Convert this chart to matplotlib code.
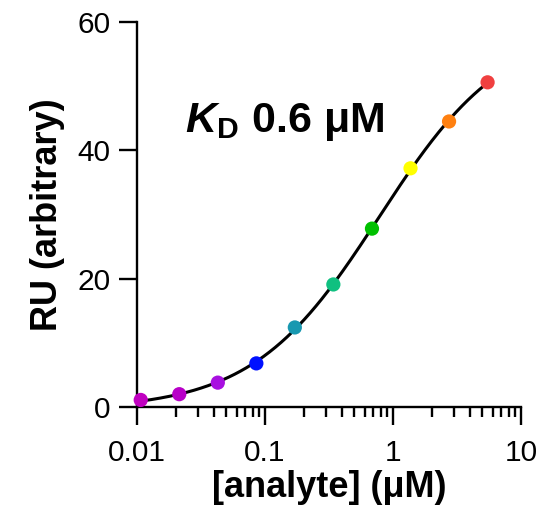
import numpy as np
import matplotlib
matplotlib.use("Agg")
import matplotlib.pyplot as plt

plt.rcParams['font.family'] = ['Liberation Sans', 'DejaVu Sans']
plt.rcParams['mathtext.fontset'] = 'custom'
plt.rcParams['mathtext.bfit'] = 'Liberation Sans:bold:italic'
plt.rcParams['mathtext.bf'] = 'Liberation Sans:bold'

# data (two-fold dilution series)
conc = [0.0107, 0.0214, 0.0428, 0.0856, 0.171, 0.342, 0.685, 1.37, 2.74, 5.48]   # uM
ru = [1.1, 2.0, 3.8, 6.8, 12.4, 19.1, 27.8, 37.2, 44.5, 50.6]
dot_colors = ['#c000c0', '#b800c8', '#a810e0', '#0010ff', '#1898b0',
              '#10c080', '#00c000', '#ffff00', '#ff8010', '#f04040']

conc = np.array(conc)
ru = np.array(ru)

# fit a Hill-type binding curve to the points (grid over K, n; linear in Rmax, offset)
best = None
for K in np.linspace(0.2, 3.0, 141):
    for n in np.linspace(0.8, 1.6, 81):
        f = conc**n / (K**n + conc**n)
        A = np.vstack([f, np.ones_like(f)]).T
        coef, res, _, _ = np.linalg.lstsq(A, ru, rcond=None)
        err = np.sum((A @ coef - ru)**2)
        if best is None or err < best[0]:
            best = (err, K, n, coef)
_, K, n, coef = best
xfit = np.logspace(np.log10(conc[0]), np.log10(conc[-1]), 300)
yfit = coef[0] * xfit**n / (K**n + xfit**n) + coef[1]

fig = plt.figure(figsize=(5.6, 5.13), dpi=100)
ax = fig.add_axes([0.2446, 0.2066, 0.9304 - 0.2446, 0.9571 - 0.2066])

ax.plot(xfit, yfit, color='black', lw=2.2, zorder=2)
ax.scatter(conc, ru, s=105, c=dot_colors, zorder=3, linewidths=0, clip_on=False)

ax.set_xscale('log')
ax.set_xlim(0.01, 10)
ax.set_ylim(0, 60)
ax.set_yticks([0, 20, 40, 60])
ax.set_xticks([0.01, 0.1, 1, 10])
ax.set_xticklabels(['0.01', '0.1', '1', '10'])

for s in ['top', 'right']:
    ax.spines[s].set_visible(False)
for s in ['left', 'bottom']:
    ax.spines[s].set_linewidth(1.7)
ax.tick_params(which='major', length=13, width=1.7, labelsize=21.5)
ax.tick_params(axis='x', which='major', pad=10)
ax.tick_params(axis='y', which='major', pad=6)
ax.tick_params(which='minor', length=7.5, width=1.7)
ax.tick_params(axis='y', which='minor', left=False)

ax.set_xlabel('[analyte] (\u03bcM)', fontsize=26, fontweight='bold', labelpad=2)
ax.set_ylabel('RU (arbitrary)', fontsize=26, fontweight='bold', labelpad=9)

ax.text(0.125, 0.714, r'$\mathbfit{K}_{\mathbf{D}}$' + ' 0.6 \u03bcM', transform=ax.transAxes,
        fontsize=31, fontweight='bold', ha='left', va='baseline')

fig.savefig('out.png', dpi=100)
